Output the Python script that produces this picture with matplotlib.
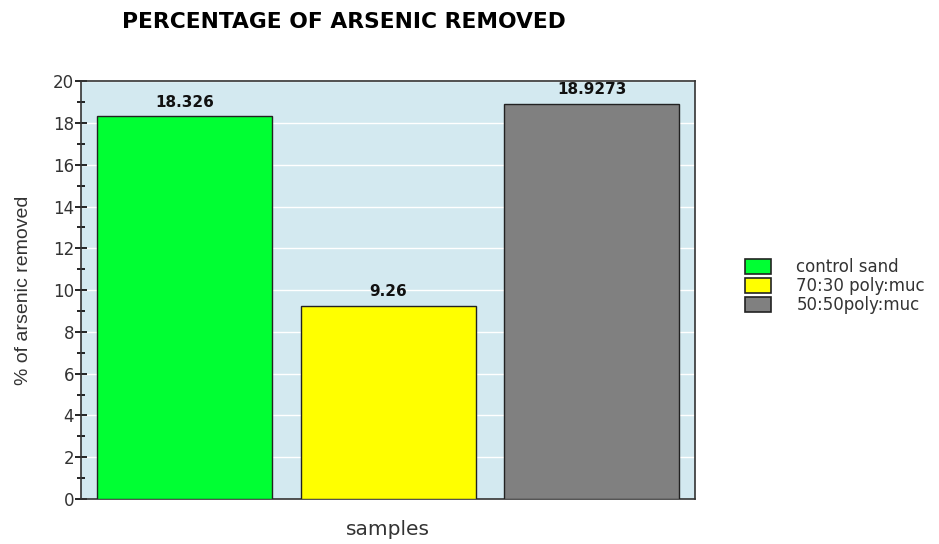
import matplotlib
matplotlib.use("Agg")
import matplotlib.pyplot as plt
from matplotlib.patches import Patch
from matplotlib.ticker import MultipleLocator

samples = ["control sand", "70:30 poly:muc", "50:50poly:muc"]
removed = [18.326, 9.26, 18.9273]
value_labels = ["18.326", "9.26", "18.9273"]
colors = ["#00ff33", "#ffff00", "#808080"]

fig = plt.figure(figsize=(9.39, 5.44), dpi=100)
ax = fig.add_axes([0.0863, 0.0827, 0.654, 0.768])
ax.set_facecolor("#d3e9f0")

xs = [0.505, 1.5, 2.496]
bars = ax.bar(xs, removed, width=0.855, color=colors, edgecolor="#222222",
              linewidth=1.0, zorder=3)
for b, t in zip(bars, value_labels):
    ax.text(b.get_x() + b.get_width() / 2, b.get_height() + 0.3, t,
            ha="center", va="bottom", fontsize=11, fontweight="bold",
            family="DejaVu Sans", color="#111111")

ax.set_xlim(0, 3)
ax.set_ylim(0, 20)
ax.yaxis.set_major_locator(MultipleLocator(2))
ax.yaxis.set_minor_locator(MultipleLocator(1))
ax.set_xticks([])
ax.grid(axis="y", which="major", color="white", linewidth=1.0, zorder=1)
ax.tick_params(axis="y", which="major", direction="inout", length=8, width=1.2,
               labelsize=12, labelcolor="#333333", pad=1)
ax.tick_params(axis="y", which="minor", direction="inout", length=6, width=1.2)
for lbl in ax.get_yticklabels():
    lbl.set_family("DejaVu Sans")
for s in ax.spines.values():
    s.set_color("#333333")
    s.set_linewidth(1.2)

ax.set_ylabel("% of arsenic removed", fontsize=14, family="Liberation Sans",
              color="#333333", labelpad=15)
ax.set_xlabel("samples", fontsize=14.5, family="DejaVu Sans",
              color="#333333", labelpad=15)

fig.text(0.13, 0.96, "PERCENTAGE OF ARSENIC REMOVED", fontsize=15.7,
         fontweight="heavy", family="DejaVu Sans",
         ha="left", va="center")

handles = [Patch(facecolor=c, edgecolor="#222222", linewidth=1.2) for c in colors]
fig.legend(handles, samples, loc="center left", bbox_to_anchor=(0.777, 0.474),
           frameon=False, prop={"family": "DejaVu Sans", "size": 12},
           handlelength=1.6, handleheight=1.0, handletextpad=1.5,
           labelspacing=0.05, labelcolor="#333333")

fig.savefig("out.png", dpi=100)
